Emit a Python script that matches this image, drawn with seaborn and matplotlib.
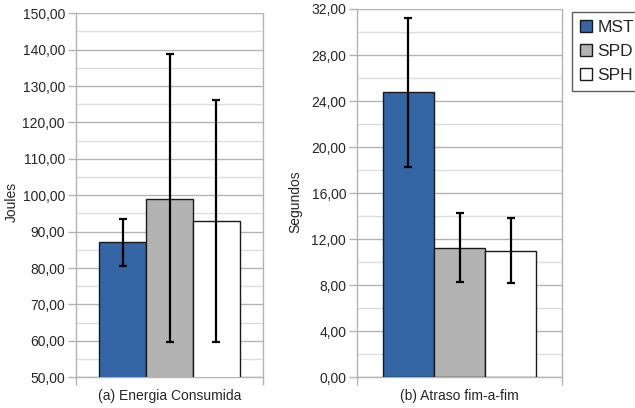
import matplotlib
matplotlib.use("Agg")
import matplotlib.pyplot as plt
from matplotlib.ticker import MultipleLocator, FuncFormatter
from matplotlib.patches import Patch
import seaborn as sns
import pandas as pd

# Protocol series and their colours
protocols = ["MST", "SPD", "SPH"]
colors = ["#3465a4", "#b3b3b3", "#ffffff"]

# (a) energy consumed, in joules
energy_mean = [87.3, 99.0, 93.0]
energy_low = [80.7, 59.7, 59.7]
energy_high = [93.6, 138.7, 126.3]

# (b) end-to-end delay, in seconds
delay_mean = [24.76, 11.26, 11.0]
delay_low = [18.3, 8.25, 8.19]
delay_high = [31.2, 14.3, 13.8]

sns.set_style("white")
plt.rcParams["font.family"] = ["Liberation Sans", "DejaVu Sans"]

fig = plt.figure(figsize=(6.35, 4.08), dpi=100)
ax_e = fig.add_axes([76 / 635, 1 - 377.3 / 408, 187 / 635, 364 / 408])
ax_d = fig.add_axes([357.3 / 635, 1 - 377.3 / 408, 204.7 / 635, 368.3 / 408])

comma_fmt = FuncFormatter(lambda v, p: f"{v:.2f}".replace(".", ","))


def panel(ax, means, lows, highs, label, ylabel, ylim, major, minor, ylab_x):
    df = pd.DataFrame({"grupo": [label] * len(protocols),
                       "protocolo": protocols,
                       "valor": means})
    sns.barplot(data=df, x="grupo", y="valor", hue="protocolo",
                hue_order=protocols, palette=colors, width=0.75,
                saturation=1, edgecolor="#1a1a1a", linewidth=1.0,
                errorbar=None, legend=False, ax=ax, zorder=3)
    # asymmetric error bars at each bar's centre
    for cont, m, lo, hi in zip(ax.containers, means, lows, highs):
        bar = cont.patches[0]
        xc = bar.get_x() + bar.get_width() / 2
        ax.errorbar([xc], [m], yerr=[[m - lo], [hi - m]], fmt="none",
                    ecolor="black", elinewidth=1.6, capsize=2.6,
                    capthick=1.6, zorder=4)
    ax.set_xlim(-0.5, 0.5)
    ax.set_ylim(*ylim)
    ax.yaxis.set_major_locator(MultipleLocator(major))
    ax.yaxis.set_minor_locator(MultipleLocator(minor))
    ax.yaxis.set_major_formatter(comma_fmt)
    ax.grid(axis="y", which="major", color="#b3b3b3", linewidth=1.0, zorder=0)
    ax.grid(axis="y", which="minor", color="#dddddd", linewidth=1.0, zorder=0)
    ax.set_axisbelow(True)
    ax.set_xticks([-0.5, 0.5])
    ax.set_xticklabels(["", ""])
    ax.tick_params(axis="x", which="major", length=6, color="#b3b3b3",
                   width=1.0, direction="out", bottom=True, pad=0)
    ax.tick_params(axis="y", which="major", length=6, color="#b3b3b3",
                   width=1.0, direction="out", left=True, labelsize=10,
                   pad=2)
    ax.tick_params(axis="y", which="minor", length=0)
    for side in ["left", "right", "bottom"]:
        ax.spines[side].set_visible(True)
        ax.spines[side].set_color("#b3b3b3")
        ax.spines[side].set_linewidth(1.0)
    ax.spines["top"].set_visible(False)
    ax.set_xlabel(label, fontsize=10, labelpad=2.5)
    ax.set_ylabel(ylabel, fontsize=10)
    # place the y label at a fixed figure position
    ax.yaxis.label.set_verticalalignment("center")
    ax.yaxis.set_label_coords(ylab_x, 1 - 202 / 408,
                              transform=fig.transFigure)


panel(ax_e, energy_mean, energy_low, energy_high,
      "(a) Energia Consumida", "Joules", (50, 150), 10, 5, 12 / 635)
panel(ax_d, delay_mean, delay_low, delay_high,
      "(b) Atraso fim-a-fim", "Segundos", (0, 32), 4, 2, 295 / 635)

handles = [Patch(facecolor=c, edgecolor="#1a1a1a", linewidth=1.0)
           for c in colors]
leg = fig.legend(handles, protocols, loc="upper left",
                 bbox_to_anchor=(572.3 / 635, 1 - 12.3 / 408),
                 bbox_transform=fig.transFigure, borderaxespad=0,
                 fontsize=12.5, frameon=True, fancybox=False,
                 handlelength=0.7, handleheight=0.7, handletextpad=0.3,
                 labelspacing=0.5, borderpad=0.45)
leg.get_frame().set_edgecolor("#333333")
leg.get_frame().set_linewidth(1.0)

fig.savefig("out.png", dpi=100)
